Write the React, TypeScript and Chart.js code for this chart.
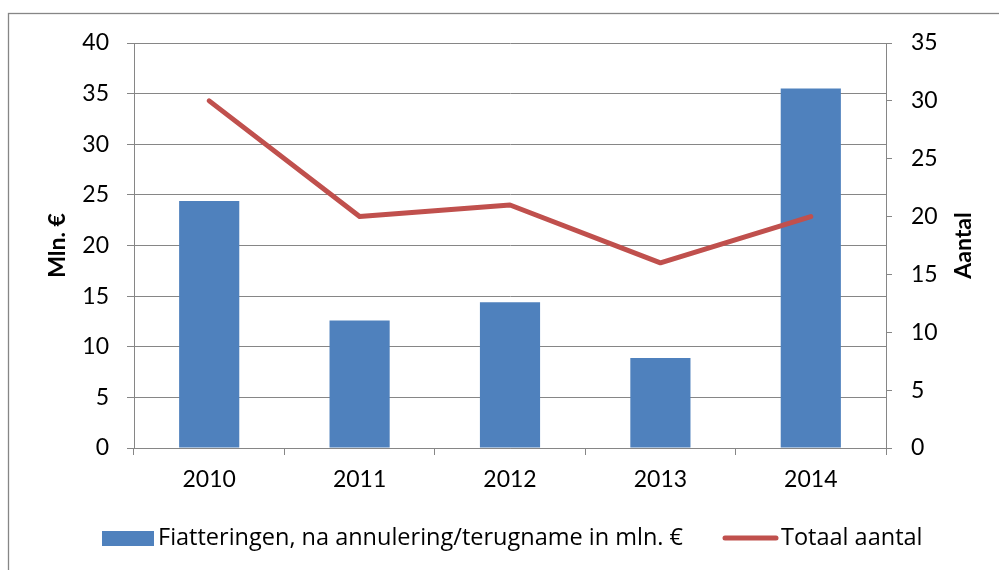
import React, { useEffect, useRef } from "react";
import { Chart, registerables } from "chart.js";

Chart.register(...registerables);

const categories = ["2010", "2011", "2012", "2013", "2014"];
const barValues = [24.4, 12.6, 14.4, 8.9, 35.5];
const lineValues = [30, 20, 21, 16, 20];
const barLabel = "Fiatteringen, na annulering/terugname in mln. €";
const lineLabel = "Totaal aantal";
const leftTitle = "Mln. €";
const rightTitle = "Aantal";

const FONT = "Lato, 'Open Sans', sans-serif";
const LEGEND_FONT = "'Open Sans', Lato, sans-serif";
const GRID = "#868686";
const BLUE = "#4F81BD";
const RED = "#C0504D";

const decorPlugin = {
  id: "decor",
  beforeDraw(chart: any) {
    const ctx = chart.ctx;
    ctx.save();
    ctx.fillStyle = "#ffffff";
    ctx.fillRect(0, 0, chart.width, chart.height);
    ctx.strokeStyle = GRID;
    ctx.lineWidth = 1.3;
    ctx.strokeRect(8.5, 13.5, chart.width + 50, chart.height + 50);
    ctx.restore();
  },
  afterDraw(chart: any) {
    const ctx = chart.ctx;
    const area = chart.chartArea;
    const midY = (area.top + area.bottom) / 2;
    ctx.save();
    ctx.fillStyle = "#000";
    ctx.font = `bold 23px ${FONT}`;
    ctx.textAlign = "center";
    ctx.textBaseline = "middle";
    ctx.translate(58, midY);
    ctx.rotate(-Math.PI / 2);
    ctx.fillText(leftTitle, 0, 0);
    ctx.restore();

    ctx.save();
    ctx.fillStyle = "#000";
    ctx.font = `bold 23px ${FONT}`;
    ctx.textAlign = "center";
    ctx.textBaseline = "middle";
    ctx.translate(964, midY);
    ctx.rotate(-Math.PI / 2);
    ctx.fillText(rightTitle, 0, 0);
    ctx.restore();

    // legend
    const ly = 538;
    ctx.save();
    ctx.font = `23.5px ${LEGEND_FONT}`;
    ctx.textBaseline = "middle";
    ctx.textAlign = "left";
    ctx.fillStyle = BLUE;
    ctx.fillRect(102, ly - 7, 52, 15);
    ctx.fillStyle = "#000";
    ctx.fillText(chart.data.datasets[1].label, 158, ly);
    ctx.strokeStyle = RED;
    ctx.lineWidth = 5;
    ctx.lineCap = "round";
    ctx.beginPath();
    ctx.moveTo(725, ly);
    ctx.lineTo(776, ly);
    ctx.stroke();
    ctx.fillText(chart.data.datasets[0].label, 781, ly);
    ctx.restore();
  },
};

export default function App() {
  const ref = useRef<HTMLCanvasElement>(null);
  useEffect(() => {
    if (!ref.current) return;
    const chart = new Chart(ref.current, {
      type: "bar",
      data: {
        labels: categories,
        datasets: [
          {
            type: "line",
            label: lineLabel,
            data: lineValues,
            yAxisID: "y1",
            borderColor: RED,
            backgroundColor: RED,
            borderWidth: 5,
            pointRadius: 0,
            borderCapStyle: "round",
            borderJoinStyle: "round",
            tension: 0,
            order: 1,
          } as any,
          {
            type: "bar",
            label: barLabel,
            data: barValues,
            yAxisID: "y",
            backgroundColor: BLUE,
            borderWidth: 0,
            barPercentage: 0.4,
            categoryPercentage: 1,
            order: 2,
          },
        ],
      },
      options: {
        responsive: false,
        animation: false,
        layout: { padding: { top: 43, left: 0, right: 0, bottom: 0 } },
        plugins: { legend: { display: false }, tooltip: { enabled: false } },
        scales: {
          x: {
            offset: true,
            grid: {
              offset: true,
              drawOnChartArea: false,
              drawTicks: true,
              tickLength: 7,
              color: GRID,
            },
            border: { color: GRID, width: 1 },
            ticks: { color: "#000", font: { family: FONT, size: 23 }, padding: 11 },
            afterFit: (s: any) => {
              s.height = 122;
            },
          },
          y: {
            position: "left",
            min: 0,
            max: 40,
            ticks: { stepSize: 5, color: "#000", font: { family: FONT, size: 23 }, padding: 18 },
            grid: { color: GRID, tickLength: 7, lineWidth: 1 },
            border: { color: GRID, width: 1 },
            afterFit: (s: any) => {
              s.width = 134;
            },
          },
          y1: {
            position: "right",
            min: 0,
            max: 35,
            ticks: { stepSize: 5, color: "#000", font: { family: FONT, size: 23 }, padding: 19 },
            grid: { drawOnChartArea: false, color: GRID, tickLength: 6 },
            border: { color: GRID, width: 1 },
            afterFit: (s: any) => {
              s.width = 113;
            },
          },
        },
      },
      plugins: [decorPlugin],
    });
    return () => chart.destroy();
  }, []);
  return (
    <div style={{ position: "fixed", left: 0, top: 0, width: 999, height: 570, background: "#fff" }}>
      <canvas ref={ref} width={999} height={570} style={{ display: "block" }} />
    </div>
  );
}
